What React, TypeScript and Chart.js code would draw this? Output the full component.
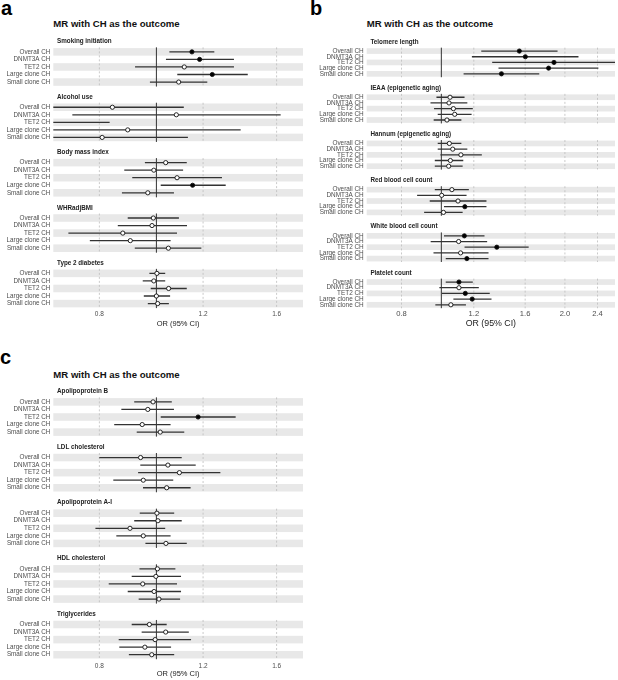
import React, { useEffect, useRef } from "react";
import { Chart, registerables } from "chart.js";
Chart.register(...registerables);

const FAMILY = '"Liberation Sans", Arial, Helvetica, sans-serif';
Chart.defaults.font.family = FAMILY;

// ---------- data ----------
const ROW_LABELS = ["Overall CH", "DNMT3A CH", "TET2 CH", "Large clone CH", "Small clone CH"];
const TICKS_AC = [0.8, 1.2, 1.6];
const TICKS_B = [0.8, 1.2, 1.6, 2.0, 2.4];

// each row: [OR, lower 95% CI, upper 95% CI]
// panel a
const smokingInitiation = [[1.149, 1.052, 1.254], [1.184, 1.038, 1.354], [1.115, 0.92, 1.354], [1.244, 1.085, 1.429], [1.091, 0.975, 1.22]];
const alcoholUse = [[0.842, 0.6, 1.113], [1.081, 0.72, 1.625], [0.55, 0.36, 0.833], [0.894, 0.57, 1.39], [0.809, 0.58, 1.131]];
const bodyMassIndex = [[1.037, 0.956, 1.126], [0.99, 0.882, 1.11], [1.084, 0.91, 1.292], [1.152, 1.017, 1.311], [0.967, 0.874, 1.071]];
const whrAdjBmi = [[0.988, 0.894, 1.092], [0.983, 0.86, 1.127], [0.877, 0.709, 1.084], [0.903, 0.771, 1.057], [1.048, 0.919, 1.192]];
const type2Diabetes = [[1.002, 0.973, 1.035], [0.99, 0.948, 1.035], [1.049, 0.978, 1.126], [1.0, 0.952, 1.055], [1.005, 0.967, 1.05]];
// panel b
const telomereLength = [[1.549, 1.251, 1.919], [1.602, 1.187, 2.158], [1.881, 1.33, 2.9], [1.825, 1.378, 2.413], [1.401, 1.133, 1.732]];
const ieaa = [[1.05, 0.973, 1.139], [1.044, 0.941, 1.157], [1.07, 0.96, 1.193], [1.078, 0.98, 1.185], [1.032, 0.958, 1.119]];
const hannum = [[1.046, 0.98, 1.119], [1.066, 0.98, 1.157], [1.116, 0.995, 1.255], [1.052, 0.964, 1.131], [1.042, 0.964, 1.127]];
const redBloodCell = [[1.061, 0.964, 1.167], [1.002, 0.873, 1.152], [1.098, 0.937, 1.288], [1.141, 1.015, 1.288], [1.012, 0.908, 1.127]];
const whiteBloodCell = [[1.138, 1.015, 1.274], [1.102, 0.942, 1.293], [1.365, 1.139, 1.632], [1.114, 0.957, 1.303], [1.154, 1.025, 1.303]];
const plateletCount = [[1.104, 1.025, 1.193], [1.104, 0.989, 1.234], [1.144, 1.003, 1.312], [1.189, 1.07, 1.325], [1.055, 0.967, 1.148]];
// panel c
const apolipoproteinB = [[0.987, 0.917, 1.062], [0.967, 0.872, 1.071], [1.177, 1.017, 1.363], [0.946, 0.848, 1.057], [1.015, 0.926, 1.115]];
const ldlCholesterol = [[0.94, 0.8, 1.104], [1.046, 0.939, 1.166], [1.094, 0.931, 1.284], [0.95, 0.845, 1.068], [1.041, 0.949, 1.143]];
const apolipoproteinA1 = [[1.002, 0.937, 1.072], [1.006, 0.917, 1.104], [0.902, 0.788, 1.035], [0.95, 0.855, 1.057], [1.038, 0.958, 1.126]];
const hdlCholesterol = [[1.004, 0.936, 1.077], [0.998, 0.908, 1.101], [0.948, 0.83, 1.084], [0.991, 0.894, 1.101], [1.01, 0.933, 1.097]];
const triglycerides = [[0.973, 0.908, 1.041], [1.037, 0.944, 1.135], [0.995, 0.863, 1.145], [0.956, 0.865, 1.059], [0.982, 0.898, 1.072]];

const TRAITS_A = ["Smoking initiation", "Alcohol use", "Body mass index", "WHRadjBMI", "Type 2 diabetes"];
const DATA_A = [smokingInitiation, alcoholUse, bodyMassIndex, whrAdjBmi, type2Diabetes];
const TRAITS_B = ["Telomere length", "IEAA (epigenetic aging)", "Hannum (epigenetic aging)", "Red blood cell count", "White blood cell count", "Platelet count"];
const DATA_B = [telomereLength, ieaa, hannum, redBloodCell, whiteBloodCell, plateletCount];
const TRAITS_C = ["Apolipoprotein B", "LDL cholesterol", "Apolipoprotein A-I", "HDL cholesterol", "Triglycerides"];
const DATA_C = [apolipoproteinB, ldlCholesterol, apolipoproteinA1, hdlCholesterol, triglycerides];

// ---------- layout ----------
type Layout = {
  left: number; top: number; width: number; height: number;
  plotLeft: number; plotRight: number; row0: number; rowStep: number; period: number;
  yMinU: number; subOffset: number; xMin: number; xMax: number;
  labelFont: number; tickFont: number; titleFont: number; tickPad: number; titlePadBottom: number;
};

const LAYOUT_A: Layout = {
  left: 0, top: 30, width: 310, height: 300, plotLeft: 53.3, plotRight: 303,
  row0: 50, rowStep: 7.6, period: 7.34, yMinU: -2, subOffset: 10.2,
  xMin: 0.6684, xMax: 1.7733, labelFont: 6.3, tickFont: 6.5, titleFont: 7.5, tickPad: 2, titlePadBottom: 1.5,
};
const LAYOUT_B: Layout = {
  left: 310, top: 30, width: 308, height: 300, plotLeft: 366.7, plotRight: 616,
  row0: 48.3, rowStep: 5.75, period: 8.12, yMinU: -2.5, subOffset: 9.2,
  xMin: 0.658, xMax: 2.6486, labelFont: 6.4, tickFont: 7.6, titleFont: 8.8, tickPad: 1.4, titlePadBottom: 1.4,
};
const LAYOUT_C: Layout = {
  left: 0, top: 380, width: 310, height: 300, plotLeft: 53.3, plotRight: 303,
  row0: 400.3, rowStep: 7.6, period: 7.368, yMinU: -2, subOffset: 10.5,
  xMin: 0.6684, xMax: 1.7733, labelFont: 6.3, tickFont: 6.5, titleFont: 7.5, tickPad: 2.6, titlePadBottom: 1.5,
};

function ForestPanel({ traits, data, ticks, L }: { traits: string[]; data: number[][][]; ticks: number[]; L: Layout }) {
  const ref = useRef<HTMLCanvasElement>(null);
  useEffect(() => {
    if (!ref.current) return;
    const nF = traits.length;
    const lastPos = (nF - 1) * L.period + 4;
    const yMin = L.yMinU;
    const yMax = lastPos + 0.6;
    const padTop = L.row0 + yMin * L.rowStep - L.top;
    const plotBottom = L.row0 + yMax * L.rowStep - L.top;
    const xAxisH = L.height - plotBottom;

    const positions: number[] = [];
    const pointData: { x: number; y: number }[] = [];
    const pointFill: string[] = [];
    const ciSets: any[] = [];
    data.forEach((rows, f) =>
      rows.forEach(([or, lo, hi], r) => {
        const y = f * L.period + r;
        positions.push(y);
        pointData.push({ x: or, y });
        pointFill.push(lo > 1 || hi < 1 ? "#000000" : "#ffffff");
        ciSets.push({
          data: [{ x: lo, y }, { x: hi, y }],
          showLine: true,
          borderColor: "#333333",
          borderWidth: 1.3,
          pointRadius: 0,
          pointHoverRadius: 0,
        });
      })
    );

    const facetPlugin = {
      id: "facets",
      beforeDatasetsDraw(chart: any) {
        const { ctx, chartArea: ca, scales } = chart;
        const xs = scales.x, ys = scales.y;
        ctx.save();
        for (let f = 0; f < nF; f++) {
          const base = f * L.period;
          ctx.fillStyle = "#e8e8e8";
          for (let r = 0; r < 5; r += 2) {
            const y1 = ys.getPixelForValue(base + r - 0.5);
            const y2 = ys.getPixelForValue(base + r + 0.5);
            ctx.fillRect(ca.left, y1, ca.right - ca.left, y2 - y1);
          }
          const top = ys.getPixelForValue(base - 0.6);
          const bot = ys.getPixelForValue(base + 4.6);
          ctx.strokeStyle = "#bdbdbd";
          ctx.lineWidth = 0.8;
          ctx.setLineDash([2, 2]);
          for (const t of ticks) {
            const px = xs.getPixelForValue(t);
            ctx.beginPath();
            ctx.moveTo(px, top);
            ctx.lineTo(px, bot);
            ctx.stroke();
          }
          ctx.setLineDash([]);
          ctx.strokeStyle = "#333333";
          ctx.lineWidth = 1;
          const p1 = xs.getPixelForValue(1);
          ctx.beginPath();
          ctx.moveTo(p1, top);
          ctx.lineTo(p1, bot);
          ctx.stroke();
        }
        ctx.restore();
      },
      afterDatasetsDraw(chart: any) {
        const { ctx, chartArea: ca, scales } = chart;
        ctx.save();
        ctx.font = `bold 6.3px ${FAMILY}`;
        ctx.fillStyle = "#222222";
        ctx.textBaseline = "middle";
        ctx.textAlign = "left";
        traits.forEach((name, f) => {
          const y = scales.y.getPixelForValue(f * L.period) - L.subOffset;
          ctx.fillText(name, ca.left + 3.7, y);
        });
        ctx.restore();
      },
    };

    const chart = new Chart(ref.current, {
      type: "scatter",
      data: {
        datasets: [
          {
            data: pointData,
            pointRadius: 2.1,
            pointHoverRadius: 2.1,
            pointBackgroundColor: pointFill,
            pointBorderColor: "#111111",
            pointBorderWidth: 0.9,
            showLine: false,
          } as any,
          ...ciSets,
        ],
      },
      options: {
        responsive: false,
        animation: false,
        events: [],
        layout: { padding: { top: padTop, right: L.width - (L.plotRight - L.left), left: 0, bottom: 0 } },
        plugins: { legend: { display: false }, tooltip: { enabled: false }, title: { display: false } },
        scales: {
          x: {
            type: "logarithmic",
            min: L.xMin,
            max: L.xMax,
            bounds: "data",
            grid: { display: false, drawTicks: false },
            border: { display: false },
            afterBuildTicks: (ax: any) => { ax.ticks = ticks.map((v) => ({ value: v })); },
            afterFit: (ax: any) => { ax.height = xAxisH; },
            ticks: {
              callback: (v: any) => Number(v).toFixed(1),
              font: { size: L.tickFont, family: FAMILY },
              color: "#4d4d4d",
              padding: L.tickPad,
              autoSkip: false,
              maxRotation: 0,
            },
            title: {
              display: true,
              text: "OR (95% CI)",
              font: { size: L.titleFont, family: FAMILY },
              color: "#1a1a1a",
              padding: { top: 0, bottom: L.titlePadBottom },
            },
          } as any,
          y: {
            type: "linear",
            reverse: true,
            min: yMin,
            max: yMax,
            grid: { display: false, drawTicks: false },
            border: { display: false },
            afterBuildTicks: (ax: any) => { ax.ticks = positions.map((v) => ({ value: v })); },
            afterFit: (ax: any) => { ax.width = L.plotLeft - L.left; },
            ticks: {
              callback: (_v: any, i: number) => ROW_LABELS[i % 5],
              font: { size: L.labelFont, family: FAMILY },
              color: "#4d4d4d",
              padding: 3,
              autoSkip: false,
            },
          } as any,
        },
      },
      plugins: [facetPlugin],
    });
    return () => chart.destroy();
  }, []);
  return (
    <canvas
      ref={ref}
      width={L.width}
      height={L.height}
      style={{ position: "absolute", left: L.left, top: L.top, width: L.width, height: L.height }}
    />
  );
}

const letterStyle: React.CSSProperties = {
  position: "absolute", fontFamily: FAMILY, fontWeight: "bold", fontSize: 20, lineHeight: "20px", color: "#000",
};
const titleStyle: React.CSSProperties = {
  position: "absolute", fontFamily: FAMILY, fontWeight: "bold", fontSize: 9.6, lineHeight: "9.6px", color: "#111", whiteSpace: "nowrap",
};

export default function App() {
  useEffect(() => { document.body.style.margin = "0"; }, []);
  return (
    <div style={{ position: "absolute", left: 0, top: 0, width: 618, height: 680, background: "#fff", overflow: "hidden" }}>
      <div style={{ ...letterStyle, left: 1, top: -2 }}>a</div>
      <div style={{ ...letterStyle, left: 310, top: -2 }}>b</div>
      <div style={{ ...letterStyle, left: 0, top: 347 }}>c</div>
      <div style={{ ...titleStyle, left: 53.3, top: 19 }}>MR with CH as the outcome</div>
      <div style={{ ...titleStyle, left: 366.7, top: 19 }}>MR with CH as the outcome</div>
      <div style={{ ...titleStyle, left: 53.3, top: 369.6 }}>MR with CH as the outcome</div>
      <ForestPanel traits={TRAITS_A} data={DATA_A} ticks={TICKS_AC} L={LAYOUT_A} />
      <ForestPanel traits={TRAITS_B} data={DATA_B} ticks={TICKS_B} L={LAYOUT_B} />
      <ForestPanel traits={TRAITS_C} data={DATA_C} ticks={TICKS_AC} L={LAYOUT_C} />
    </div>
  );
}
